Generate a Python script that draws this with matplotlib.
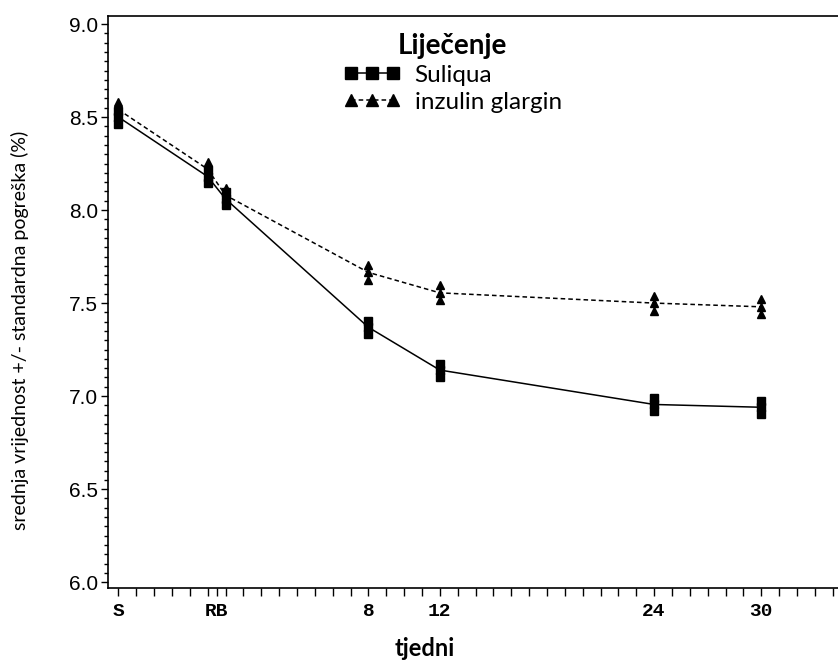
import matplotlib.pyplot as plt
from matplotlib.ticker import MultipleLocator

# tjedni (S = probir, RB = randomizacija)
tjedni = [-6, -1, 0, 8, 12, 24, 30]
suliqua = [8.50, 8.18, 8.06, 7.37, 7.14, 6.955, 6.94]
suliqua_se = [0.035, 0.035, 0.035, 0.035, 0.035, 0.035, 0.035]
glargin = [8.54, 8.22, 8.08, 7.665, 7.555, 7.50, 7.48]
glargin_se = [0.04, 0.04, 0.04, 0.04, 0.04, 0.04, 0.04]

tick_pos = [-6, -0.5, 8, 12, 24, 30]
tick_lab = ["S", "RB", "8", "12", "24", "30"]

fig = plt.figure(figsize=(8.38, 6.63), dpi=100)
ax = fig.add_axes([0.1285, 0.113, 1 - 0.1285, 0.8628])

def serija(x, y, se, marker, ls, ms, label):
    ax.plot(x, y, color="black", linestyle=ls, linewidth=1.1, marker=marker,
            markersize=ms, label=label)
    for yy, s, xx in zip(y, se, x):
        ax.plot([xx, xx], [yy - s, yy + s], color="black", linewidth=1.0)
        ax.plot([xx, xx], [yy - s, yy + s], linestyle="none", marker=marker,
                markersize=ms, color="black")

serija(tjedni, suliqua, suliqua_se, "s", "-", 6, "Suliqua")
serija(tjedni, glargin, glargin_se, "^", (0, (3, 2)), 5.5, "inzulin glargin")

ax.set_xlim(-6.6, 34.3)
ax.set_ylim(5.968, 9.043)
ax.set_xticks(tick_pos)
ax.set_xticklabels(tick_lab, fontfamily="Liberation Mono", fontweight="bold", fontsize=14)
ax.xaxis.set_minor_locator(MultipleLocator(1))
ax.yaxis.set_minor_locator(MultipleLocator(0.05))
ax.set_yticks([6.0, 6.5, 7.0, 7.5, 8.0, 8.5, 9.0])
ax.set_yticklabels(["6.0", "6.5", "7.0", "7.5", "8.0", "8.5", "9.0"],
                   fontfamily="Liberation Sans", fontsize=15)
ax.tick_params(axis="x", which="both", length=6, width=1.0, direction="out", pad=5)
ax.tick_params(axis="y", which="major", length=5, width=1.0, direction="out", pad=2)
ax.tick_params(axis="y", which="minor", length=3, width=1.0, direction="out")
ax.spines["right"].set_visible(False)
for s in ["left", "bottom", "top"]:
    ax.spines[s].set_linewidth(1.2)

ax.set_xlabel("tjedni", fontfamily="Lato", fontweight="bold", fontsize=17)
ax.xaxis.set_label_coords(0.4345, -0.085)
ax.set_ylabel("srednja vrijednost +/- standardna pogreška (%)", fontfamily="Lato",
              fontsize=14)
ax.yaxis.set_label_coords(-0.108, 0.45)

h, l = ax.get_legend_handles_labels()
leg = ax.legend(h, l, loc="upper left", bbox_to_anchor=(0.297, 1.005), frameon=False,
                numpoints=3, markerscale=1.45, handlelength=2.3, handletextpad=0.6,
                labelspacing=0.25, borderpad=0.3,
                prop={"family": "Lato", "size": 17.5}, title="Liječenje",
                title_fontproperties={"family": "Lato", "weight": "bold", "size": 20})
leg._legend_box.align = "center"

fig.savefig("out.png", dpi=100)
